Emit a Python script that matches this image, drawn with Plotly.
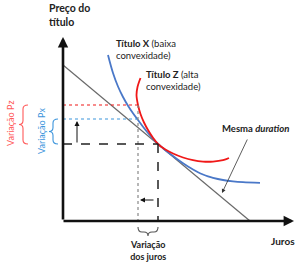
import plotly.graph_objects as go

# ---- data (conceptual units) ----
line_rate = [0.0, 18.7]
line_price = [15.6, 0.0]

z_rate = [7.75, 7.45, 7.35, 7.5, 7.75, 8.1, 8.5, 8.95, 9.5, 10.2, 11.0, 12.0, 13.0, 14.0, 15.0, 16.0, 16.6]
z_price = [14.3, 13.4, 12.6, 11.6, 10.7, 9.85, 9.1, 8.4, 7.7, 7.17, 6.75, 6.35, 6.08, 5.94, 5.94, 6.08, 6.3]

x_rate = [4.5, 5.0, 5.5, 6.0, 6.5, 7.0, 7.5, 8.0, 8.5, 9.0, 9.5, 10.0, 10.5, 11.0, 11.5,
          12.0, 12.5, 13.0, 13.5, 14.0, 14.5, 15.0, 16.0, 17.0, 18.0, 19.7]
x_price = [16.6, 14.8, 13.45, 12.4, 11.53, 10.78, 10.1, 9.43, 8.8, 8.23, 7.7, 7.28, 6.88, 6.5, 6.13,
           5.78, 5.45, 5.15, 4.88, 4.65, 4.46, 4.31, 4.1, 3.97, 3.89, 3.82]

rate0 = 9.5      # initial rate (tangent point)
price0 = 7.7
rate1 = 7.5      # new rate
pz1 = 11.6       # price Z at new rate
px1 = 10.2       # price X at new rate

RED = "#f01818"
BLUE = "#4a78c8"
LRED = "#ff5a5a"
LBLUE = "#3d95dc"
FONT = "Lato"

fig = go.Figure()

fig.add_trace(go.Scatter(x=line_rate, y=line_price, mode="lines",
                         line=dict(color="#6a6a6a", width=1.2), hoverinfo="skip"))
fig.add_trace(go.Scatter(x=x_rate, y=x_price, mode="lines", line_shape="spline",
                         line=dict(color=BLUE, width=1.8), hoverinfo="skip"))
fig.add_trace(go.Scatter(x=z_rate, y=z_price, mode="lines", line_shape="spline",
                         line=dict(color=RED, width=1.8), hoverinfo="skip"))

shapes = []
shapes.append(dict(type="line", x0=0, y0=pz1, x1=rate1, y1=pz1, line=dict(color=RED, width=1.2, dash="dot")))
shapes.append(dict(type="line", x0=0, y0=px1, x1=rate1, y1=px1, line=dict(color=LBLUE, width=1.2, dash="dot")))
shapes.append(dict(type="line", x0=rate1, y0=pz1, x1=rate1, y1=0, line=dict(color="#888888", width=1.2, dash="dot")))
shapes.append(dict(type="line", x0=0, y0=price0, x1=rate0, y1=price0, line=dict(color="#222222", width=1.5, dash="dash")))
shapes.append(dict(type="line", x0=rate0, y0=price0, x1=rate0, y1=0, line=dict(color="#222222", width=1.5, dash="dash")))


def vbrace(xt, xs, xp, ytop, ybot, color):
    ym = (ytop + ybot) / 2
    d = 0.4
    p = (f"M {xt},{ytop} Q {xs},{ytop} {xs},{ytop-d} L {xs},{ym+d} "
         f"Q {xs},{ym} {xp},{ym} Q {xs},{ym} {xs},{ym-d} L {xs},{ybot+d} "
         f"Q {xs},{ybot} {xt},{ybot}")
    return dict(type="path", path=p, line=dict(color=color, width=1.1))


def hbrace(yt, ys, yp, xl, xr, color):
    xm = (xl + xr) / 2
    d = 0.4
    p = (f"M {xl},{yt} Q {xl},{ys} {xl+d},{ys} L {xm-d},{ys} "
         f"Q {xm},{ys} {xm},{yp} Q {xm},{ys} {xm+d},{ys} L {xr-d},{ys} "
         f"Q {xr},{ys} {xr},{yt}")
    return dict(type="path", path=p, line=dict(color=color, width=1.1))


shapes.append(vbrace(-3.5, -4.0, -4.4, pz1, price0, LRED))
shapes.append(vbrace(-0.5, -1.0, -1.4, px1, price0, LBLUE))
shapes.append(hbrace(-0.6, -1.1, -1.5, rate1, rate0, "#555555"))

ann = []
ann.append(dict(x=0, y=18.4, ax=0, ay=0, xref="x", yref="y", axref="x", ayref="y",
                showarrow=True, arrowhead=2, arrowsize=0.8, arrowwidth=2.6, arrowcolor="#111111", text=""))
ann.append(dict(x=23.1, y=0, ax=-0.1, ay=0, xref="x", yref="y", axref="x", ayref="y",
                showarrow=True, arrowhead=2, arrowsize=0.8, arrowwidth=2.6, arrowcolor="#111111", text=""))
ann.append(dict(x=1.4, y=10.0, ax=1.4, ay=price0, xref="x", yref="y", axref="x", ayref="y",
                showarrow=True, arrowhead=2, arrowsize=1, arrowwidth=1, arrowcolor="#111111", text=""))
ann.append(dict(x=7.7, y=2.1, ax=9.2, ay=2.1, xref="x", yref="y", axref="x", ayref="y",
                showarrow=True, arrowhead=2, arrowsize=1, arrowwidth=1, arrowcolor="#111111", text=""))
ann.append(dict(x=15.9, y=2.8, ax=18.5, ay=8.3, xref="x", yref="y", axref="x", ayref="y",
                showarrow=True, arrowhead=2, arrowsize=1, arrowwidth=0.8, arrowcolor="#333333", text=""))


def txt(x, y, t, size=10, color="#222222", xanchor="center", align="center", angle=0):
    return dict(x=x, y=y, xref="x", yref="y", text=t, showarrow=False, xanchor=xanchor,
                yanchor="middle", align=align, textangle=angle,
                font=dict(family=FONT, size=size, color=color))


ann.append(txt(-1.6, 20.6, "<b>Preço do<br>título</b>", size=10.5, xanchor="left", align="left"))
ann.append(txt(22.0, -2.0, "<b>Juros</b>", size=10))
ann.append(txt(5.1, 17.2, "<b>Título X</b> (baixa<br>convexidade)", size=9.5, xanchor="left", align="left"))
ann.append(txt(8.1, 14.05, "<b>Título Z</b> (alta<br>convexidade)", size=9.5, xanchor="left", align="left"))
ann.append(txt(19.2, 9.3, "<b>Mesma <i>duration</i></b>", size=9.5))
ann.append(txt(-5.3, 9.7, "Variação Pz", size=9, color=LRED, angle=-90))
ann.append(txt(-2.2, 9.0, "Variação Px", size=9, color=LBLUE, angle=-90))
ann.append(txt(8.5, -2.9, "<b>Variação<br>dos juros</b>", size=9))

fig.update_layout(
    width=300, height=266, margin=dict(l=0, r=0, t=0, b=0),
    paper_bgcolor="white", plot_bgcolor="white", showlegend=False,
    xaxis=dict(range=[-6.3, 23.7], visible=False, fixedrange=True),
    yaxis=dict(range=[-4.5, 22.1], visible=False, fixedrange=True),
    shapes=shapes, annotations=ann,
)

fig.write_html("out.html")
